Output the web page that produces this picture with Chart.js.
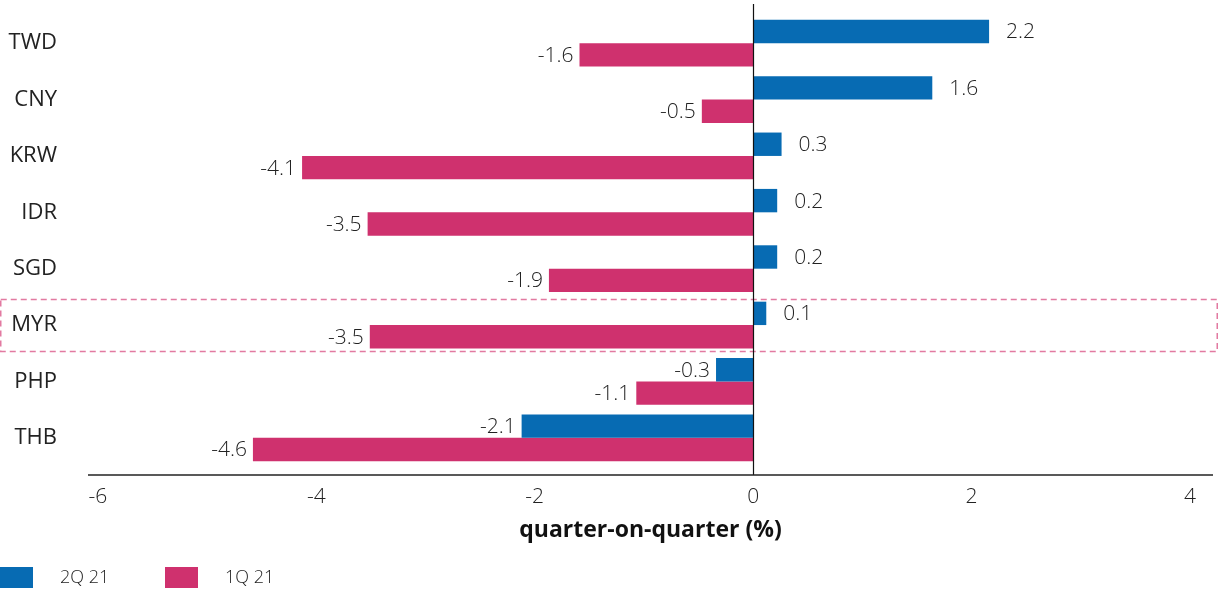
<!DOCTYPE html>
<html>
<head>
<meta charset="utf-8">
<script src="https://cdn.jsdelivr.net/npm/chart.js@4.4.1/dist/chart.umd.min.js"></script>
<style>
  html, body { margin: 0; padding: 0; background: #fff; }
  #wrap { width: 1218px; height: 592px; position: relative; }
</style>
</head>
<body>
<div id="wrap"><canvas id="c" width="1218" height="592"></canvas></div>
<script>
const categories = ['TWD', 'CNY', 'KRW', 'IDR', 'SGD', 'MYR', 'PHP', 'THB'];
const q2Values = [2.16, 1.64, 0.26, 0.22, 0.22, 0.12, -0.34, -2.12];
const q1Values = [-1.59, -0.47, -4.13, -3.53, -1.87, -3.51, -1.07, -4.58];
const seriesNames = ['2Q 21', '1Q 21'];
const xTickValues = [-6, -4, -2, 0, 2, 4];
const highlightCategory = 'MYR';

const BLUE = '#076bb3';
const PINK = '#cf316e';
const TEXT = '#222222';
const FONT = "'Open Sans', 'Noto Sans', sans-serif";

const overlay = {
  id: 'overlay',
  afterDatasetsDraw(chart) {
    const ctx = chart.ctx;
    const ca = chart.chartArea;
    const xs = chart.scales.x, ys = chart.scales.y;
    const axisY = ca.bottom + 9;
    ctx.save();
    // highlight dashed box
    const hi = categories.indexOf(highlightCategory);
    const yc = ys.getPixelForValue(hi);
    ctx.strokeStyle = '#e27aa1';
    ctx.lineWidth = 1.5;
    ctx.setLineDash([6, 4]);
    ctx.strokeRect(0.75, yc - 25.5, chart.width - 1.5, 52);
    ctx.setLineDash([]);
    // zero line
    const x0 = Math.round(xs.getPixelForValue(0)) + 0.5;
    ctx.strokeStyle = '#111';
    ctx.lineWidth = 1.2;
    ctx.beginPath();
    ctx.moveTo(x0, 4);
    ctx.lineTo(x0, axisY);
    ctx.stroke();
    // x axis line
    ctx.strokeStyle = '#222';
    ctx.lineWidth = 1.6;
    ctx.beginPath();
    ctx.moveTo(ca.left, axisY);
    ctx.lineTo(ca.right, axisY);
    ctx.stroke();
    // value labels
    ctx.font = "300 21px " + FONT;
    ctx.fillStyle = TEXT;
    ctx.textBaseline = 'middle';
    chart.data.datasets.forEach((ds, di) => {
      const meta = chart.getDatasetMeta(di);
      meta.data.forEach((bar, i) => {
        const v = ds.data[i];
        const txt = v.toFixed(1);
        if (v >= 0) {
          ctx.textAlign = 'left';
          ctx.fillText(txt, bar.x + 17, bar.y + 1);
        } else {
          ctx.textAlign = 'right';
          ctx.fillText(txt, bar.x - 6, bar.y + 1);
        }
      });
    });
    // legend
    const ly = 567;
    const offsets = [0, 165];
    chart.data.datasets.forEach((ds, di) => {
      const lx = offsets[di];
      ctx.fillStyle = ds.backgroundColor;
      ctx.fillRect(lx, ly, 33, 21);
      ctx.fillStyle = TEXT;
      ctx.textAlign = 'left';
      ctx.font = "300 18px " + FONT;
      ctx.fillText(ds.label, lx + 60, ly + 11);
    });
    ctx.restore();
  }
};

new Chart(document.getElementById('c'), {
  type: 'bar',
  data: {
    labels: categories,
    datasets: [
      { label: seriesNames[0], data: q2Values, backgroundColor: BLUE, borderWidth: 0 },
      { label: seriesNames[1], data: q1Values, backgroundColor: PINK, borderWidth: 0 }
    ]
  },
  options: {
    indexAxis: 'y',
    responsive: false,
    animation: false,
    layout: { padding: { top: 15, right: 5, bottom: 46, left: 0 } },
    datasets: { bar: { categoryPercentage: 0.83, barPercentage: 1.0 } },
    plugins: { legend: { display: false }, tooltip: { enabled: false } },
    scales: {
      x: {
        type: 'linear',
        min: -6.09,
        max: 4.21,
        grid: { display: false, drawTicks: false },
        border: { display: false },
        afterBuildTicks(scale) { scale.ticks = xTickValues.map(v => ({ value: v })); },
        afterFit(scale) { scale.height = 80; },
        ticks: {
          padding: 18,
          color: TEXT,
          font: { family: FONT, size: 21, weight: '300' }
        },
        title: {
          display: true,
          text: 'quarter-on-quarter (%)',
          color: '#111',
          font: { family: FONT, size: 23, weight: 'bold' },
          padding: { top: 0, bottom: 2 }
        }
      },
      y: {
        type: 'category',
        offset: true,
        grid: { display: false, drawTicks: false },
        border: { display: false },
        afterFit(scale) {
          scale.width = 88;
          scale.paddingTop = 0;
          scale.paddingBottom = 0;
        },
        ticks: {
          padding: 31,
          color: TEXT,
          font: { family: FONT, size: 22, weight: '400' }
        }
      }
    }
  },
  plugins: [overlay]
});
</script>
</body>
</html>
